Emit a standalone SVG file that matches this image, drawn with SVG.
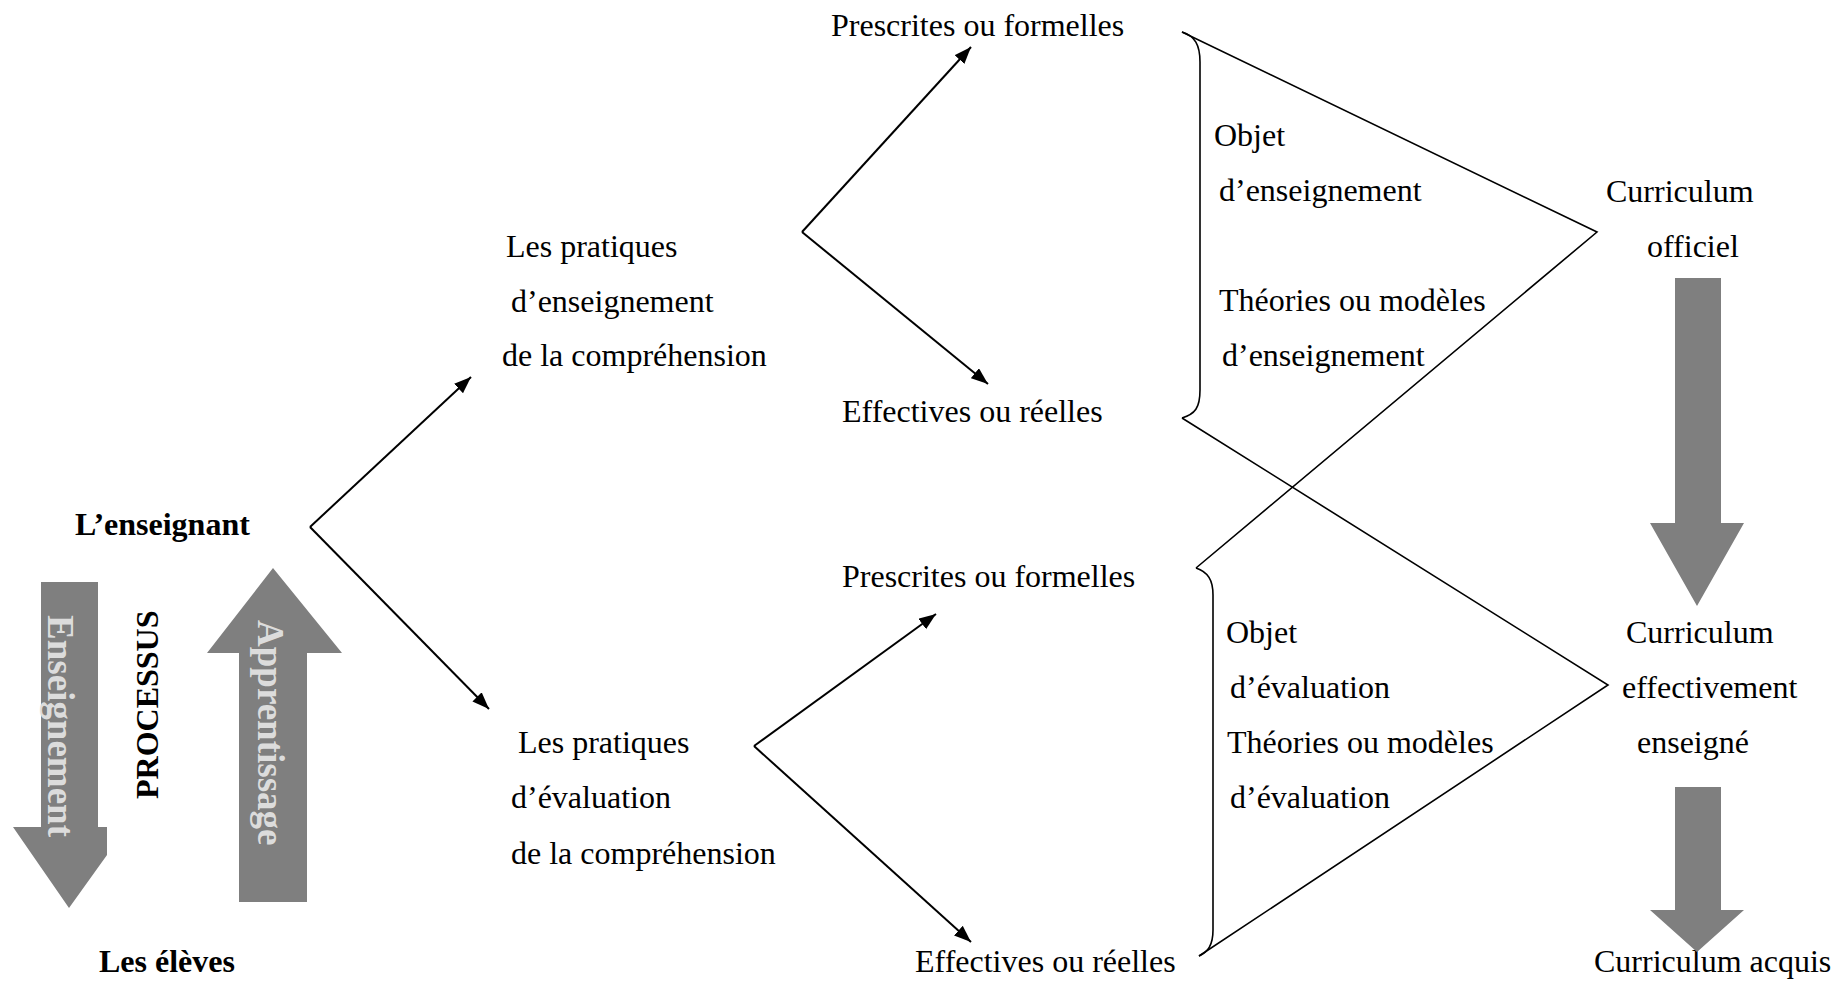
<svg xmlns="http://www.w3.org/2000/svg" width="1834" height="983" viewBox="0 0 1834 983">
<style>
  text { font-family: "Liberation Serif", "Times New Roman", serif; font-size: 32px; fill: #000; }
  .b { font-weight: bold; }
  .inv { font-weight: bold; font-size: 37px; fill: #dcdcdc; }
  .gray { fill: #7f7f7f; stroke: none; }
  .con { stroke: #000; stroke-width: 2; fill: none; }
  .thin { stroke: #000; stroke-width: 1.6; fill: none; }
</style>
<defs>
  <marker id="ah" markerUnits="userSpaceOnUse" markerWidth="20" markerHeight="14" refX="17" refY="6.5" orient="auto">
    <path d="M0,0 L17,6.5 L0,13 z" fill="#000"/>
  </marker>
</defs>
<rect width="1834" height="983" fill="#fff"/>

<g id="process">
  <polygon class="gray" points="41,582 98,582 98,827 107,827 107,855 69,908 13,827 41,827"/>
  <text class="inv" transform="translate(48,615) rotate(90)">Enseignement</text>
  <polygon class="gray" points="273,568 342,653 307,653 307,902 239,902 239,653 207,653"/>
  <text class="inv" transform="translate(258,620) rotate(90)">Apprentissage</text>
  <text class="b" transform="translate(158,799) rotate(-90)">PROCESSUS</text>
</g>

<g id="enseignant"><text class="b" x="75" y="535">L’enseignant</text></g>
<g id="eleves"><text class="b" x="99" y="972">Les élèves</text></g>

<g id="pratiques-enseignement">
  <text x="506" y="257">Les pratiques</text>
  <text x="511" y="312">d’enseignement</text>
  <text x="502" y="366">de la compréhension</text>
</g>
<g id="pratiques-evaluation">
  <text x="518" y="753">Les pratiques</text>
  <text x="511" y="808">d’évaluation</text>
  <text x="511" y="864">de la compréhension</text>
</g>

<g id="prescrites-1"><text x="831" y="36">Prescrites ou formelles</text></g>
<g id="effectives-1"><text x="842" y="422">Effectives ou réelles</text></g>
<g id="prescrites-2"><text x="842" y="587">Prescrites ou formelles</text></g>
<g id="effectives-2"><text x="915" y="972">Effectives ou réelles</text></g>

<g id="objet-enseignement">
  <text x="1214" y="146">Objet</text>
  <text x="1219" y="201">d’enseignement</text>
  <text x="1219" y="311">Théories ou modèles</text>
  <text x="1222" y="366">d’enseignement</text>
</g>
<g id="objet-evaluation">
  <text x="1226" y="643">Objet</text>
  <text x="1230" y="698">d’évaluation</text>
  <text x="1227" y="753">Théories ou modèles</text>
  <text x="1230" y="808">d’évaluation</text>
</g>

<g id="curriculum-officiel">
  <text x="1606" y="202">Curriculum</text>
  <text x="1647" y="257">officiel</text>
</g>
<g id="curriculum-enseigne">
  <text x="1626" y="643">Curriculum</text>
  <text x="1622" y="698">effectivement</text>
  <text x="1637" y="753">enseigné</text>
</g>
<g id="curriculum-acquis"><text x="1594" y="972">Curriculum acquis</text></g>

<g id="flow-arrows">
  <polygon class="gray" points="1675,278 1721,278 1721,523 1744,523 1697,606 1650,523 1675,523"/>
  <polygon class="gray" points="1675,787 1721,787 1721,910 1744,910 1697,952 1650,910 1675,910"/>
</g>

<g id="connectors">
  <line class="con" x1="310" y1="527" x2="471" y2="377" marker-end="url(#ah)"/>
  <line class="con" x1="310" y1="527" x2="489" y2="709" marker-end="url(#ah)"/>
  <line class="con" x1="802" y1="232" x2="971" y2="47" marker-end="url(#ah)"/>
  <line class="con" x1="802" y1="232" x2="988" y2="384" marker-end="url(#ah)"/>
  <line class="con" x1="754" y1="746" x2="936" y2="614" marker-end="url(#ah)"/>
  <line class="con" x1="754" y1="746" x2="971" y2="942" marker-end="url(#ah)"/>

  <path class="thin" d="M1182,32 C1195,36 1200,45 1200,62 L1200,390 C1200,408 1195,414 1182,418"/>
  <path class="thin" d="M1196,568 C1208,572 1213,580 1213,595 L1213,930 C1213,945 1208,952 1199,956"/>
  <polyline class="thin" points="1182,32 1597,232 1196,568"/>
  <polyline class="thin" points="1182,418 1608,685 1199,956"/>
</g>
</svg>
